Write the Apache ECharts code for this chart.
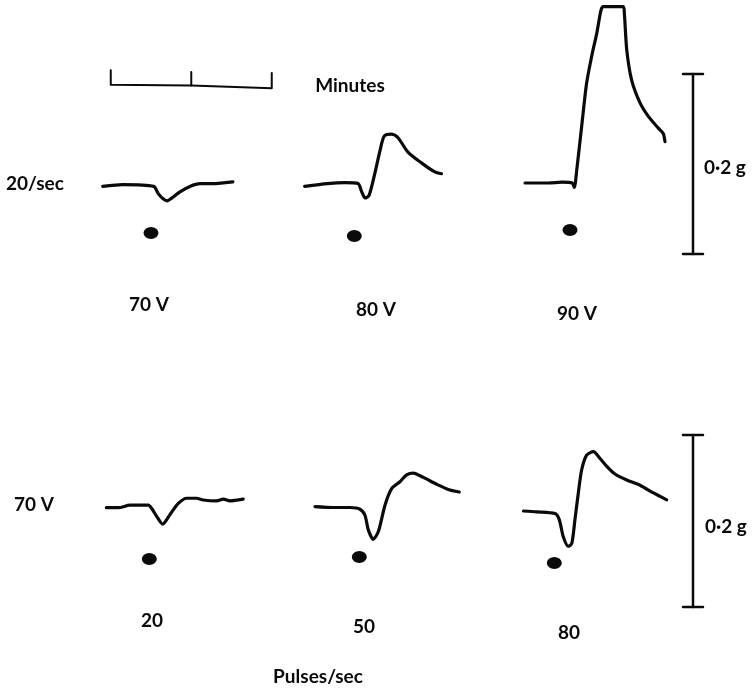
<!DOCTYPE html>
<html>
<head>
<meta charset="utf-8">
<script src="https://cdn.jsdelivr.net/npm/echarts@6/dist/echarts.min.js"></script>
<style>
  html, body { margin: 0; padding: 0; background: #ffffff; }
  #chart { width: 754px; height: 690px; }
</style>
</head>
<body>
<div id="chart"></div>
<script>
// Isometric tension records. Each point: [seconds from stimulus onset, tension change in g].

// Upper row: 20 pulses/sec at three stimulus voltages
const rowLabelTop = '20/sec';
const voltageLabels = ['70 V', '80 V', '90 V'];
const trace70V = [
  [-36, -0.001], [-21, 0.001], [2, -0.001], [5.4, -0.009], [9.2, -0.015], [12.1, -0.017],
  [15.4, -0.014], [21.6, -0.007], [29, -0.001], [36.5, 0.002], [46, 0.002], [54, 0.003], [61, 0.004]
];
const trace80V = [
  [-37, -0.002], [-20, 0.001], [-7, 0.002], [2.8, 0.001], [5.5, -0.008], [8, -0.015], [11, -0.012],
  [15.4, 0.013], [19.2, 0.038], [22.4, 0.054], [27.9, 0.056], [32.6, 0.052], [40, 0.036],
  [50, 0.024], [60, 0.014], [65, 0.012]
];
const trace90V = [
  [-33.5, 0], [-16, 0], [-6, 0.001], [1.7, 0], [3.2, -0.005], [5, 0.014], [8.7, 0.063],
  [12.4, 0.111], [16.6, 0.144], [19.9, 0.166], [23.1, 0.192], [24.8, 0.196], [39.7, 0.196],
  [40.5, 0.189], [42.3, 0.148], [46, 0.114], [52.2, 0.089], [58.4, 0.074], [65.8, 0.061],
  [69.5, 0.055], [70.8, 0.046]
];

// Lower row: 70 V at three pulse frequencies
const rowLabelBottom = '70 V';
const frequencyLabels = ['20', '50', '80'];
const frequencyAxisName = 'Pulses/sec';
const trace20Hz = [
  [-32, -0.002], [-23, -0.002], [-14.4, 0.001], [-0.7, 0.001], [1.8, -0.003], [5.5, -0.012],
  [10, -0.021], [15.4, -0.010], [21.6, 0.003], [27.9, 0.009], [35.3, 0.009], [40.2, 0.007],
  [50.2, 0.006], [55.2, 0.008], [60.1, 0.006], [70, 0.008]
];
const trace50Hz = [
  [-33, 0.001], [-19.4, 0], [-6.9, 0], [0.5, -0.002], [4.2, -0.009], [6.7, -0.026], [10.4, -0.037],
  [14.2, -0.028], [19.2, 0.003], [24.1, 0.022], [30.3, 0.030], [35.3, 0.038], [40.2, 0.040],
  [47.7, 0.035], [57.7, 0.027], [66.3, 0.021], [74.5, 0.018]
];
const trace80Hz = [
  [-23, 0], [-13, -0.001], [0.5, -0.003], [3.7, -0.010], [6.7, -0.030], [10.4, -0.041],
  [13, -0.038], [15.4, -0.010], [17.9, 0.021], [20.4, 0.048], [24.1, 0.065], [29.1, 0.069],
  [34.1, 0.061], [39.1, 0.052], [45.2, 0.043], [54, 0.036], [63.9, 0.030], [73.8, 0.021], [83.8, 0.013]
];

// Calibration: time bar in seconds (1-minute divisions), force bar in g
const timeBarTicks = [-30, 30, 90];
const timeBarName = 'Minutes';
const forceBarG = 0.2;
const forceBarLabel = '0\u00B72 g';

// ---- layout ----
const PX_PER_S = 161 / 120;
const X_MIN = -45, X_MAX = 95;
const INK = '#0a0a0a';
const FONT = 'bold 19px Lato, "Open Sans", sans-serif';

const panels = [
  { data: trace70V,  dotX: 151,   base: 185.5, pxg: 900, dotY: 233, yMin: -0.08, yMax: 0.2 },
  { data: trace80V,  dotX: 354.3, base: 184.5, pxg: 900, dotY: 236, yMin: -0.08, yMax: 0.2 },
  { data: trace90V,  dotX: 570,   base: 183,   pxg: 900, dotY: 230, yMin: -0.08, yMax: 0.2 },
  { data: trace20Hz, dotX: 149.3, base: 506,   pxg: 860, dotY: 559, yMin: -0.08, yMax: 0.1 },
  { data: trace50Hz, dotX: 359.3, base: 507.5, pxg: 860, dotY: 557, yMin: -0.08, yMax: 0.1 },
  { data: trace80Hz, dotX: 554.3, base: 511,   pxg: 860, dotY: 563, yMin: -0.08, yMax: 0.1 }
];

const grids = [], xAxes = [], yAxes = [], series = [];

function addGrid(left, top, width, height, xr, yr) {
  grids.push({ left: left, top: top, width: width, height: height, containLabel: false });
  const i = grids.length - 1;
  xAxes.push({ gridIndex: i, type: 'value', min: xr[0], max: xr[1], show: false });
  yAxes.push({ gridIndex: i, type: 'value', min: yr[0], max: yr[1], show: false });
  return i;
}

function lineSeries(idx, data, width, smooth) {
  return {
    type: 'line', xAxisIndex: idx, yAxisIndex: idx, data: data,
    showSymbol: false, symbol: 'none', smooth: smooth || false, clip: false,
    lineStyle: { color: INK, width: width, cap: 'round', join: 'round', opacity: 1 },
    silent: true
  };
}

panels.forEach(function (p) {
  const idx = addGrid(
    p.dotX + X_MIN * PX_PER_S, p.base - p.yMax * p.pxg,
    (X_MAX - X_MIN) * PX_PER_S, (p.yMax - p.yMin) * p.pxg,
    [X_MIN, X_MAX], [p.yMin, p.yMax]
  );
  p.idx = idx;
  series.push(lineSeries(idx, p.data, 3.2, 0.25));
  // stimulus marker
  series.push({
    type: 'scatter', xAxisIndex: idx, yAxisIndex: idx,
    data: [[0, -(p.dotY - p.base) / p.pxg]],
    symbol: 'circle', symbolSize: [15, 12],
    itemStyle: { color: INK, opacity: 1 }, silent: true
  });
});

// time bar drawn in the first record's time scale
const tb = panels[0].idx;
const barLevel = [0.112, 0.111, 0.108];
const tickTop = [0.128, 0.126, 0.125];
series.push(lineSeries(tb, [
  [timeBarTicks[0], tickTop[0]], [timeBarTicks[0], barLevel[0]],
  [timeBarTicks[1], barLevel[1]], [timeBarTicks[2], barLevel[2]],
  [timeBarTicks[2], tickTop[2]]
], 2));
series.push(lineSeries(tb, [[timeBarTicks[1], barLevel[1]], [timeBarTicks[1], tickTop[1]]], 2));

// force calibration bars
[{ top: 74, pxg: 900 }, { top: 435, pxg: 860 }].forEach(function (b) {
  const idx = addGrid(683, b.top, 20, forceBarG * b.pxg, [-1, 1], [0, forceBarG]);
  series.push(lineSeries(idx, [[0, 0], [0, forceBarG]], 2.5));
  series.push(lineSeries(idx, [[-1, 0], [1, 0]], 2.5));
  series.push(lineSeries(idx, [[-1, forceBarG], [1, forceBarG]], 2.5));
});

function label(text, x, y, align) {
  return {
    type: 'text', silent: true,
    style: {
      text: text, x: x, y: y, fill: INK, font: FONT,
      textAlign: align || 'center', textVerticalAlign: 'middle',
      align: align || 'center', verticalAlign: 'middle'
    }
  };
}

const graphics = [
  label(timeBarName, 350, 86),
  label(rowLabelTop, 6, 184, 'left'),
  label(voltageLabels[0], 149, 305),
  label(voltageLabels[1], 376, 310),
  label(voltageLabels[2], 577, 314),
  label(forceBarLabel, 704, 168, 'left'),
  label(rowLabelBottom, 14, 505, 'left'),
  label(frequencyLabels[0], 152, 621),
  label(frequencyLabels[1], 364, 627),
  label(frequencyLabels[2], 569, 633),
  label(frequencyAxisName, 318, 677),
  label(forceBarLabel, 705, 527, 'left')
];

const chart = echarts.init(document.getElementById('chart'), null, { renderer: 'canvas' });
chart.setOption({
  animation: false,
  backgroundColor: '#ffffff',
  grid: grids,
  xAxis: xAxes,
  yAxis: yAxes,
  series: series,
  graphic: graphics
});
</script>
</body>
</html>
